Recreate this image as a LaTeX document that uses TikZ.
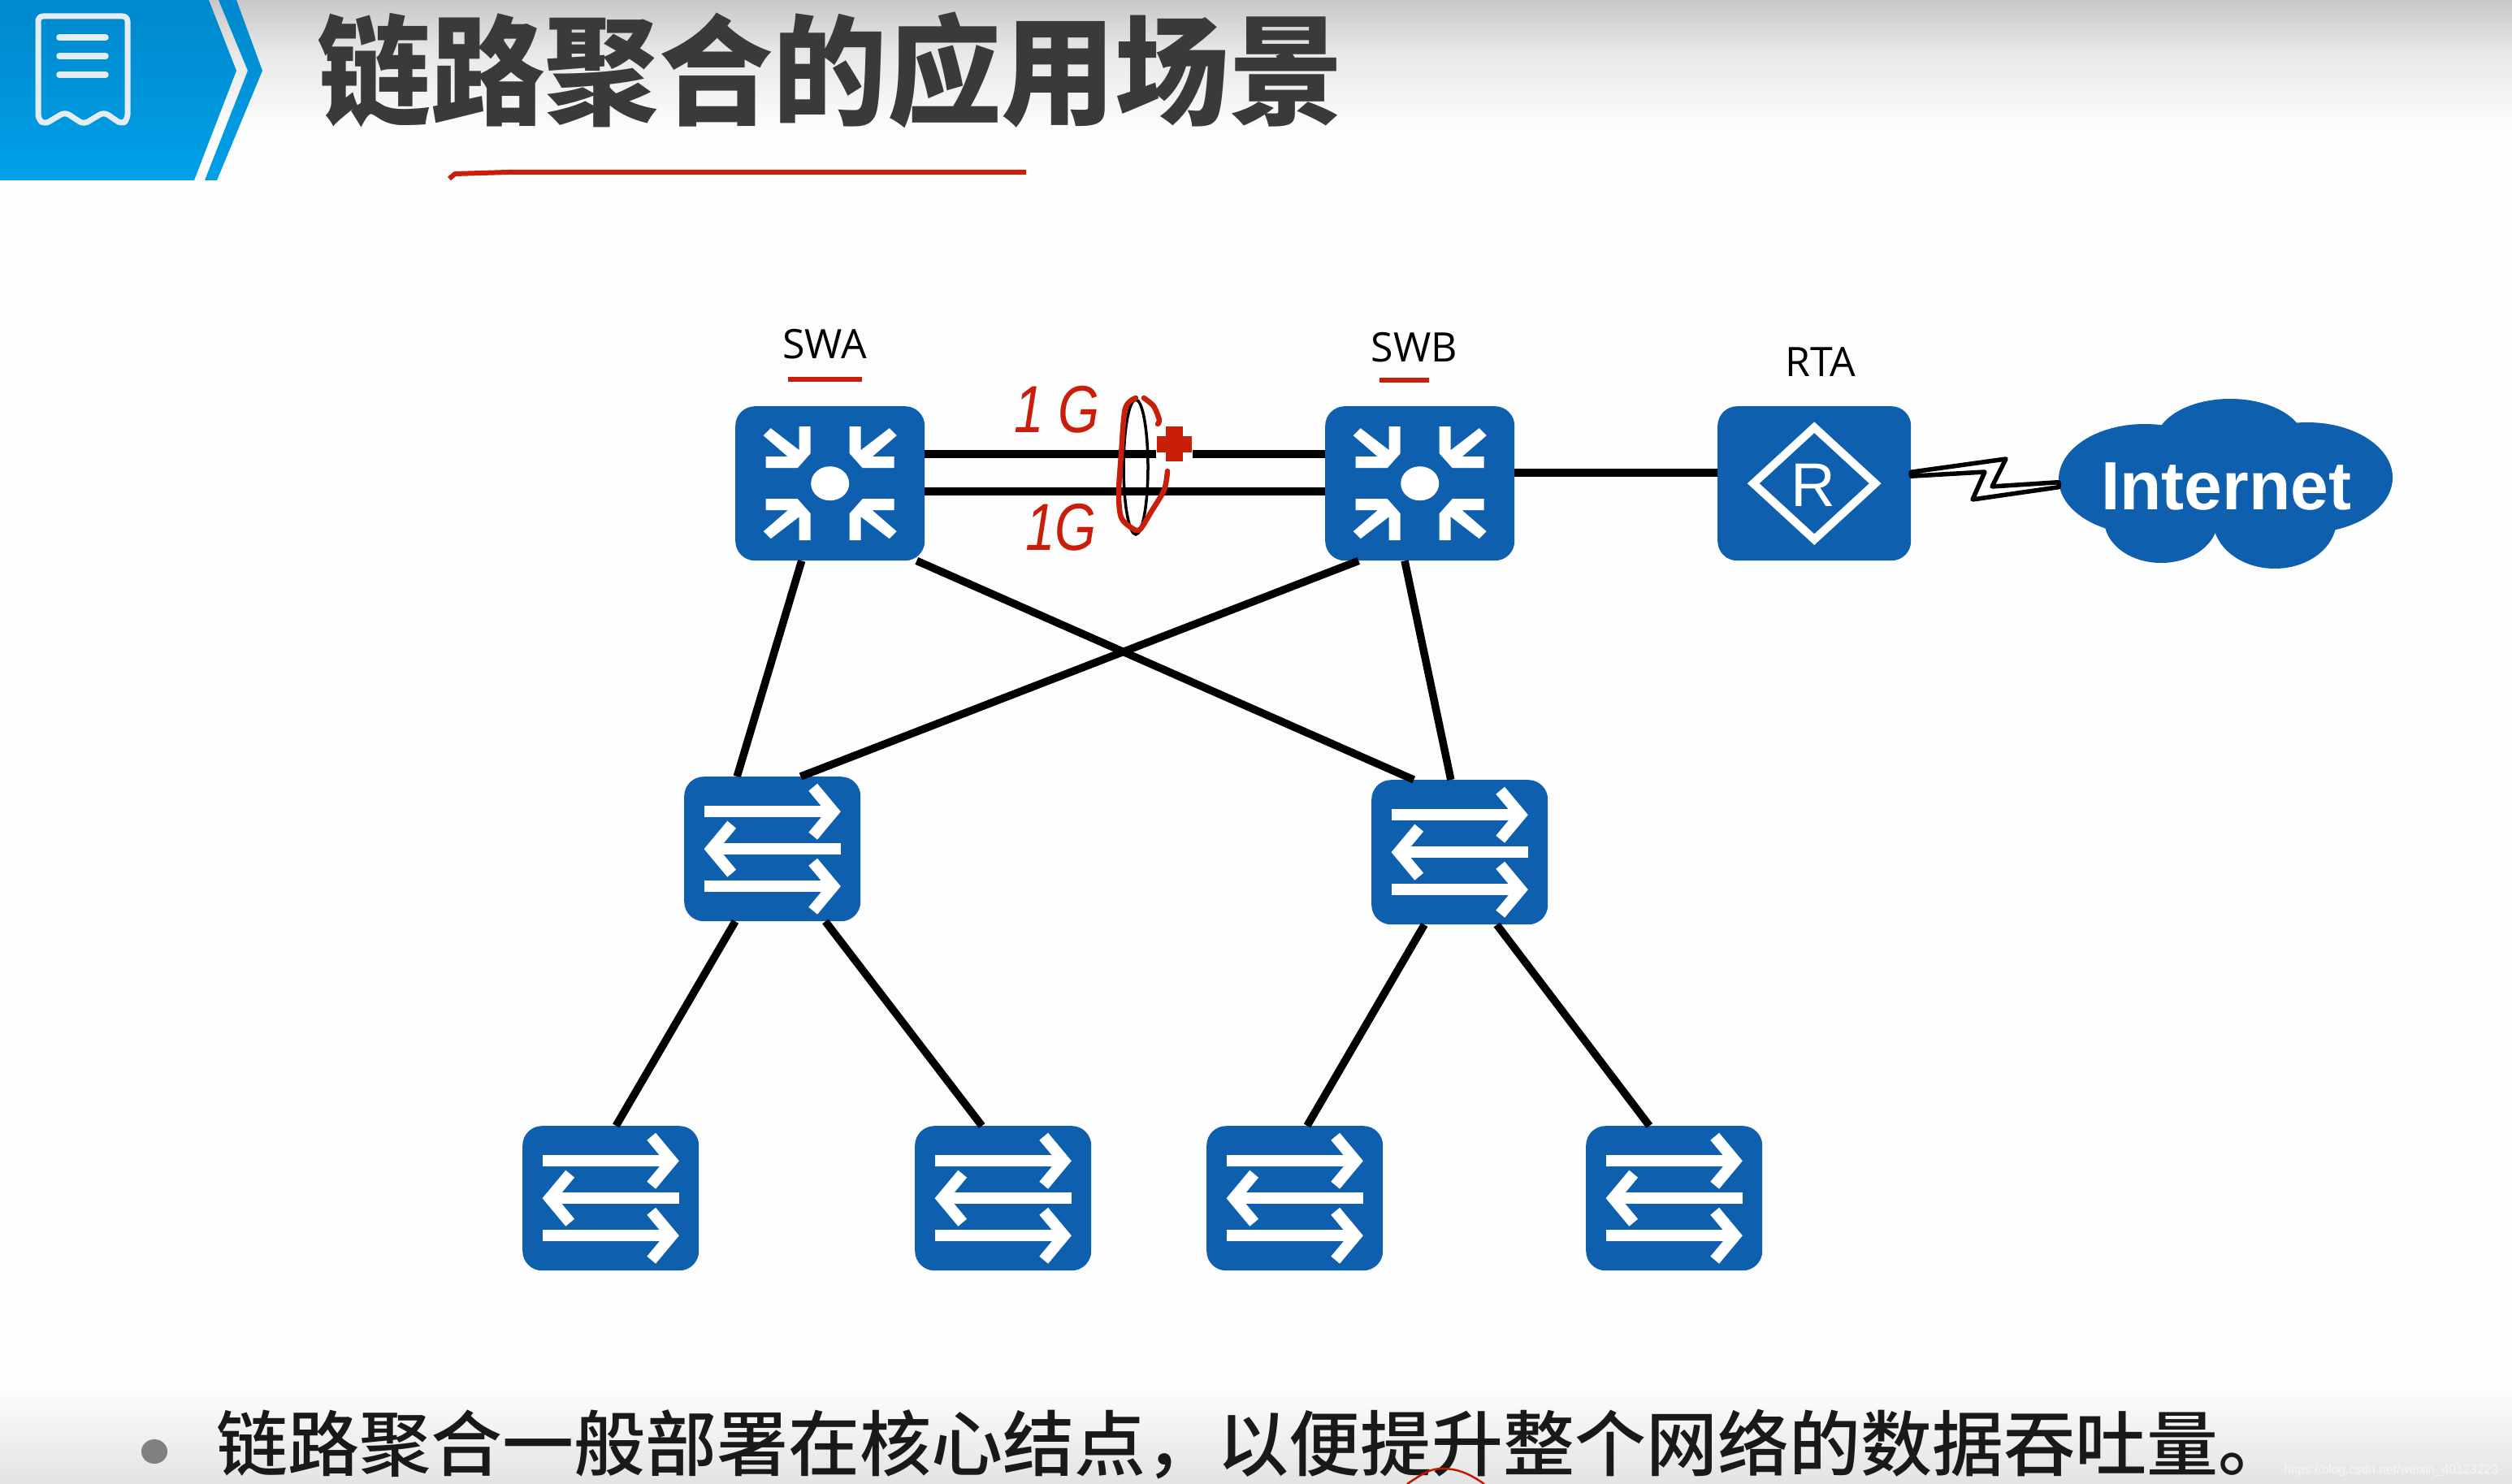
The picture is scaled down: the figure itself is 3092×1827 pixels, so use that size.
\documentclass[tikz,border=0pt]{standalone}
\usepackage{fontspec}
\usetikzlibrary{calc}
\setmainfont{Open Sans}
\newfontfamily\cjkb[FakeStretch=0.955]{Noto Sans CJK SC Black}
\newfontfamily\cjkr{Noto Sans CJK SC Medium}
\newfontfamily\arialb{Liberation Sans Bold}
\newfontfamily\arialr{Liberation Sans}
\newfontfamily\hand[FakeStretch=0.8]{Liberation Sans Italic}
\definecolor{devblue}{HTML}{0F5FAF}
\definecolor{headtop}{HTML}{0088CC}
\definecolor{headbot}{HTML}{00A0E8}
\definecolor{penred}{HTML}{C81E0A}
\definecolor{titlegrey}{HTML}{3A3A3A}
\definecolor{paper}{HTML}{FDFDFD}
\definecolor{topgrey}{HTML}{C8C8C8}
\definecolor{midgrey}{HTML}{E8E8E8}
\definecolor{iconwhite}{HTML}{E4EEF2}
\tikzset{
  x=1pt,y=-1pt,
  devbox/.style={fill=devblue,rounded corners=24pt,inner sep=0pt,anchor=north west,text=white},
  corebox/.style={devbox,minimum width=233pt,minimum height=190pt},
  routerbox/.style={devbox,minimum width=238pt,minimum height=190pt},
  accessbox/.style={devbox,minimum width=217pt,minimum height=178pt},
  link/.style={draw=black,line width=9.5pt},
  trunk/.style={draw=black,line width=10pt},
  devlabel/.style={font=\fontsize{50}{54}\selectfont,anchor=base,inner sep=0pt,text=black},
  penstroke/.style={draw=penred,line width=6.5pt,line cap=round,line join=round},
  handtext/.style={font=\hand\fontsize{82}{86}\selectfont,text=penred,anchor=base west,inner sep=0pt},
  iconline/.style={draw=white,line width=14pt,miter limit=10},
  coreicon/.pic={
    \fill[white] (0,0) ellipse [x radius=23.5,y radius=21];
    \foreach \sx in {1,-1}\foreach \sy in {1,-1}{
      \fill[white,xscale=\sx,yscale=\sy] (82,59)--(73,68)--(38,41)--(38,70)--(24,70)--(24,37)--(40,19)--(79,19)--(79,33)--(52,33)--cycle;
    }
  },
  accessicon/.pic={
    \draw[iconline] (-84,-46)--(74,-46);
    \draw[iconline] (50,-76)--(75,-46)--(50,-16);
    \draw[iconline] (84,0)--(-74,0);
    \draw[iconline] (-50,-30)--(-75,0)--(-50,30);
    \draw[iconline] (-84,46)--(74,46);
    \draw[iconline] (50,16)--(75,46)--(50,76);
  }
}
\begin{document}
\begin{tikzpicture}
\useasboundingbox (0,0) rectangle (3092,1827);
% background
\fill[paper] (0,0) rectangle (3092,1827);
\shade[top color=topgrey,bottom color=midgrey] (0,0) rectangle (3092,66);
\shade[top color=midgrey,bottom color=paper] (0,66) rectangle (3092,160);
\shade[top color=paper,bottom color=black!11] (0,1710) rectangle (3092,1827);
% header
\shade[top color=headtop,bottom color=headbot] (0,0)--(257,0)--(291,87)--(239,222)--(0,222)--cycle;
\shade[top color=headtop,bottom color=headbot] (269,0)--(291,0)--(323,87)--(267,222)--(252,222)--(305,87)--cycle;
\draw[iconwhite,line width=7pt,rounded corners=6pt,line join=round] (80,138)--(55,153)--(47,147)--(47,20)--(157,20)--(157,147)--(150,153)--(128,138)--(103,153)--cycle;
\foreach \yy in {46,69,92}{\draw[iconwhite,line width=7.5pt,line cap=round] (73,\yy)--(130,\yy);}
\node[anchor=base west,inner sep=0pt,text=titlegrey,font=\cjkb\fontsize{147}{150}\selectfont] (title) at (390,143) {链路聚合的应用场景};
\draw[penred,line width=6pt,line join=round] (553,220)--(560,214)--(625,212)--(1263,212);
% devices
\node[corebox] (swa) at (905,500) {};
\node[corebox] (swb) at (1631,500) {};
\node[routerbox] (rta) at (2114,500) {};
\node[accessbox] (asa) at (842,956) {};
\node[accessbox] (asb) at (1688,960) {};
\node[accessbox] (e1) at (643,1386) {};
\node[accessbox] (e2) at (1126,1386) {};
\node[accessbox] (e3) at (1485,1386) {};
\node[accessbox] (e4) at (1952,1386) {};
\pic at (swa.center) {coreicon};
\pic at (swb.center) {coreicon};
\foreach \n in {asa,asb,e1,e2,e3,e4}{\pic at (\n.center) {accessicon};}
% router icon
\draw[white,line width=10pt,miter limit=10] ($(rta.center)+(0,-69)$)--++(75,69)--++(-75,69)--++(-75,-69)--cycle;
\node[inner sep=0pt,anchor=base,text=white,font=\arialr\fontsize{76}{80}\selectfont] (rlabel) at ($(rta.center)+(-1,28)$) {R};
% cloud
\fill[devblue] (2745,545) ellipse [x radius=92,y radius=54];
\fill[devblue] (2640,590) ellipse [x radius=106,y radius=68];
\fill[devblue] (2840,588) ellipse [x radius=105,y radius=68];
\fill[devblue] (2660,640) ellipse [x radius=70,y radius=53];
\fill[devblue] (2800,640) ellipse [x radius=76,y radius=60];
\fill[devblue] (2660,560) rectangle (2830,650);
\node[inner sep=0pt,minimum width=411pt,minimum height=209pt,anchor=north west] (inet) at (2534,491) {};
\node[inner sep=0pt,anchor=base,text=white,font=\arialb\fontsize{84}{88}\selectfont] (inettext) at (2740,627) {Internet};
% labels
\node[devlabel] (lswa) at (1015,441) {SWA};
\node[devlabel] (lswb) at (1741,445) {SWB};
\node[devlabel] (lrta) at (2241,463) {RTA};
% links
\draw[trunk] ($(swa.east)+(0,-36)$)--($(swb.west)+(0,-36)$);
\draw[trunk] ($(swa.east)+(0,10)$)--($(swb.west)+(0,10)$);
\draw[trunk] ($(swb.east)+(0,-13)$)--($(rta.west)+(0,-13)$);
\draw[link] ($(swa.south west)!.35!(swa.south east)$)--($(asa.north west)!.30!(asa.north east)$);
\draw[link] ($(swa.south west)!.957!(swa.south east)$)--($(asb.north west)!.24!(asb.north east)$);
\draw[link] ($(swb.south west)!.177!(swb.south east)$)--($(asa.north west)!.66!(asa.north east)$);
\draw[link] ($(swb.south west)!.42!(swb.south east)$)--($(asb.north west)!.45!(asb.north east)$);
\draw[link] ($(asa.south west)!.29!(asa.south east)$)--($(e1.north west)!.53!(e1.north east)$);
\draw[link] ($(asa.south west)!.80!(asa.south east)$)--($(e2.north west)!.38!(e2.north east)$);
\draw[link] ($(asb.south west)!.30!(asb.south east)$)--($(e3.north west)!.57!(e3.north east)$);
\draw[link] ($(asb.south west)!.71!(asb.south east)$)--($(e4.north west)!.36!(e4.north east)$);
% serial link
\draw[black,line width=5.5pt,line join=round,fill=white] ($(rta.east)+(0,-14)$)--(2469,565)--(2452,599)--($(inet.west)+(0,-2)$)--($(inet.west)+(0,4)$)--(2428,615)--(2443,581)--($(rta.east)+(0,-9)$)--cycle;
% red annotations
\draw[penred,line width=6pt] (970,467)--(1061,467);
\draw[penred,line width=6pt] (1698,468)--(1759,468);
\draw[black,line width=3.5pt] (1398,575) ellipse [x radius=15,y radius=83];
\draw[penstroke] plot[smooth] coordinates {(1398,490)(1385,503)(1380,560)(1377,607)(1380,637)(1393,650)(1403,652)(1417,630)(1433,603)(1437,580)};
\draw[penstroke] plot[smooth] coordinates {(1408,490)(1420,500)(1427,517)(1425,522)};
\fill[white] (1423,550) rectangle (1468,572);
\fill[penred] (1435,525) rectangle (1456,568);
\fill[penred] (1424,537) rectangle (1467,557);
\node[handtext] (g1) at (1248,532) {1 G};
\node[handtext] (g2) at (1262,677) {1G};
% bottom text
\fill[black!50] (190,1787) ellipse [x radius=16,y radius=15];
\node[anchor=base west,inner sep=0pt,text=black!90,font=\cjkr\fontsize{88}{90}\selectfont] (body) at (266,1810) {链路聚合一般部署在核心结点，以便提升整个网络的数据吞吐量。};
\draw[draw=red!70!black!80!orange,line width=2.5pt] (1732,1827) .. controls (1750,1815) and (1760,1808) .. (1775,1808) .. controls (1795,1808) and (1810,1815) .. (1827,1827);
\node[anchor=base west,inner sep=0pt,text=white!96!black,font=\arialr\fontsize{15.5}{18}\selectfont] (wm) at (2811,1814) {https://blog.csdn.net/weixin\_40123223};
\end{tikzpicture}
\end{document}
